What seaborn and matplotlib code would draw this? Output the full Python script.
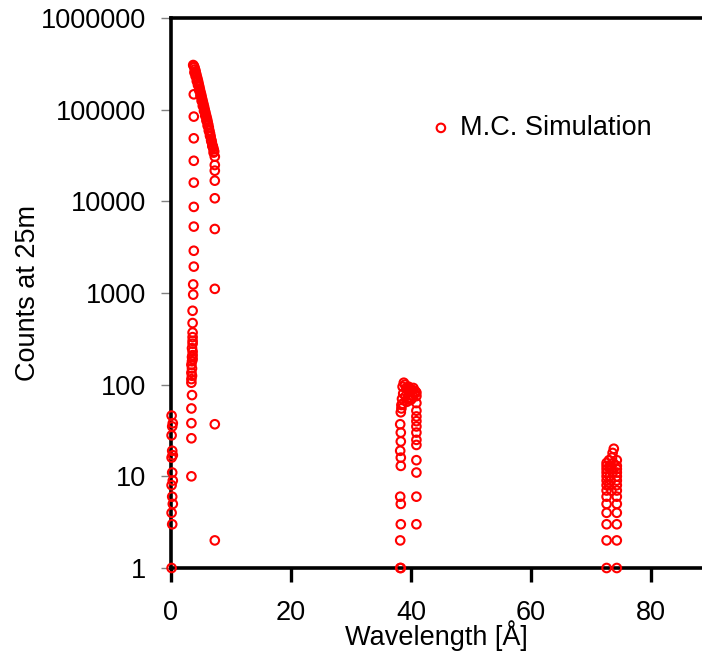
import numpy as np
import pandas as pd
import matplotlib
matplotlib.use("Agg")
import matplotlib.pyplot as plt
import matplotlib.ticker as mticker
import seaborn as sns

# ---------------- data ----------------
# cluster near 0 A
x_zero = [0.1, 0.2, 0.1, 0.3, 0.2, 0.1, 0.3, 0.2, 0.1, 0.3, 0.2, 0.1, 0.2, 0.3, 0.1]
y_zero = [1, 3, 4, 5, 6, 8, 9, 11, 16, 17, 19, 28, 35, 38, 46]

# low-intensity tail at the leading edge of the main peak
x_edge = [3.4, 3.4, 3.4, 3.4, 3.5, 3.4, 3.4, 3.5, 3.4, 3.5, 3.4, 3.5, 3.6, 3.5, 3.6,
          3.6, 3.5, 3.6, 3.6, 3.6, 3.6, 3.6, 3.6, 3.7, 3.7, 3.8, 3.8, 3.8, 3.8, 3.8,
          3.8, 3.8, 3.8, 3.8]
y_edge = [10, 26, 38, 55, 77, 105, 115, 125, 135, 150, 165, 180, 190, 200, 210,
          230, 250, 280, 300, 330, 370, 470, 640, 960, 1240, 1940, 2890, 5300, 8700,
          16000, 27700, 48700, 84000, 147000]

# main peak (dense band)
x_peak = [3.7, 3.8, 3.9, 4.0, 4.1, 4.2, 4.3, 4.4, 4.5, 4.6, 4.7, 4.8, 4.9, 5.0, 5.1,
          5.2, 5.3, 5.4, 5.5, 5.6, 5.7, 5.8, 5.9, 6.0, 6.1, 6.2, 6.3, 6.4, 6.5, 6.6,
          6.7, 6.8, 6.9, 7.0, 7.1, 7.2,
          3.9, 4.1, 4.3, 4.5, 4.7, 4.9, 5.1, 5.3, 5.5, 5.7, 5.9, 6.1, 6.3, 6.5, 6.7,
          6.9, 7.1]
y_peak = [307000, 300000, 290000, 275000, 262000, 245000, 230000, 218000, 205000,
          192000, 180000, 168000, 157000, 148000, 139000, 130000, 122000, 115000,
          108000, 101000, 95000, 89000, 84000, 79000, 74000, 69000, 64000, 59000,
          55000, 51000, 47000, 44000, 41000, 39000, 37000, 35000,
          255000, 232000, 205000, 185000, 162000, 142000, 125000, 110000, 97000,
          86000, 76000, 67000, 59000, 52000, 46000, 40000, 34000]

# trailing edge of the main peak
x_trail = [7.3, 7.3, 7.3, 7.3, 7.3, 7.3, 7.3, 7.3, 7.3]
y_trail = [30700, 24900, 21600, 16800, 10800, 4990, 1110, 37, 2]

# second-order bump near 38-41 A
x_b2 = [38.2, 38.3, 38.2, 38.3, 38.3, 38.2, 38.3, 38.3, 38.2, 38.3, 38.3, 38.2, 38.3, 38.4,
        38.4, 38.6, 38.8, 39.0, 39.2, 39.4, 39.6, 39.8, 40.0, 40.2, 40.4, 40.6, 38.5, 38.7,
        39.1, 39.5, 39.9, 40.3, 40.7, 38.6, 39.3, 40.1,
        40.9, 40.9, 40.9, 40.9, 40.9, 40.9, 40.9, 40.9, 40.9, 40.9, 40.9, 40.9, 40.9, 40.9]
y_b2 = [1, 1, 2, 3, 5, 6, 13, 16, 19, 24, 30, 37, 50, 55,
        60, 95, 105, 100, 92, 88, 95, 90, 85, 88, 92, 80, 70, 80,
        75, 72, 68, 75, 85, 62, 65, 70,
        3, 6, 11, 15, 22, 25, 30, 35, 40, 45, 52, 63, 75, 82]

# third-order bump near 73-74 A
x_b3 = [72.6, 72.6, 72.6, 72.6, 72.6, 72.6, 72.6, 72.6, 72.6, 72.6, 72.6, 72.6, 72.6, 72.6,
        73.0, 73.2, 73.4, 73.6, 73.1, 73.3, 73.5, 73.7, 73.0, 73.4, 73.8, 73.6,
        74.3, 74.3, 74.3, 74.3, 74.3, 74.3, 74.3, 74.3, 74.3, 74.3, 74.3, 74.3, 74.3, 74.3]
y_b3 = [1, 2, 3, 4, 5, 6, 7, 8, 9, 10, 11, 12, 13, 14,
        15, 13, 12, 11, 10, 9, 16, 14, 8, 7, 20, 18,
        1, 2, 3, 4, 5, 6, 7, 8, 9, 10, 11, 12, 13, 15]

x_ticks = [0, 20, 40, 60, 80]
y_ticks = [1, 10, 100, 1000, 10000, 100000, 1000000]
y_tick_labels = ["1", "10", "100", "1000", "10000", "100000", "1000000"]

# ---------------- figure ----------------
df = pd.DataFrame({
    "Wavelength": x_zero + x_edge + x_peak + x_trail + x_b2 + x_b3,
    "Counts": y_zero + y_edge + y_peak + y_trail + y_b2 + y_b3,
})

sns.set_style("white")
plt.rcParams["font.family"] = ["Liberation Sans", "DejaVu Sans"]
plt.rcParams["text.color"] = "black"
plt.rcParams["axes.labelcolor"] = "black"
plt.rcParams["xtick.color"] = "black"
plt.rcParams["ytick.color"] = "black"
FS = 19.5

fig = plt.figure(figsize=(7.02, 6.60), dpi=100)
ax = fig.add_axes([171 / 702, 92 / 660, 531 / 702, 550 / 660])

sns.scatterplot(data=df, x="Wavelength", y="Counts", ax=ax, marker="o",
                facecolor="none", edgecolor="#ff0000", s=38, linewidth=1.5,
                label="M.C. Simulation", clip_on=False, zorder=5)

ax.set_yscale("log")
ax.set_xlim(0, 88.5)
ax.set_ylim(1, 1e6)

ax.set_xticks(x_ticks)
ax.xaxis.set_minor_locator(mticker.MultipleLocator(5))
ax.set_xticklabels([str(t) for t in x_ticks], fontsize=FS)
ax.set_yticks(y_ticks)
ax.yaxis.set_major_formatter(mticker.FixedFormatter(y_tick_labels))
ax.yaxis.set_minor_locator(mticker.NullLocator())
for lab in ax.get_yticklabels():
    lab.set_fontsize(FS)

ax.tick_params(axis="x", which="major", direction="out", length=10, width=2.4,
               color="black", labelcolor="black", pad=13, labelsize=FS)
ax.tick_params(axis="x", which="minor", direction="out", length=7, width=2.0,
               color="black")
ax.tick_params(axis="y", which="major", direction="out", length=7, width=1.0,
               color="#808080", labelcolor="black", pad=11, labelsize=FS, left=True)
ax.tick_params(axis="x", bottom=True)

for side in ["left", "bottom", "top"]:
    ax.spines[side].set_visible(True)
    ax.spines[side].set_linewidth(2.6)
    ax.spines[side].set_color("black")
ax.spines["right"].set_visible(False)

ax.set_xlabel("Wavelength [Å]", fontsize=FS, color="black")
ax.set_ylabel("Counts at 25m", fontsize=FS, color="black")
ax.xaxis.set_label_coords(0.5, -0.095)
ax.yaxis.set_label_coords(-0.245, 0.5)

leg = ax.legend(loc="center left", bbox_to_anchor=(0.493, 0.80), frameon=False,
                fontsize=FS, handlelength=0.6, handletextpad=0.4, borderpad=0,
                borderaxespad=0, markerscale=1.0)
for t in leg.get_texts():
    t.set_color("black")

fig.savefig("out.png", dpi=100)
